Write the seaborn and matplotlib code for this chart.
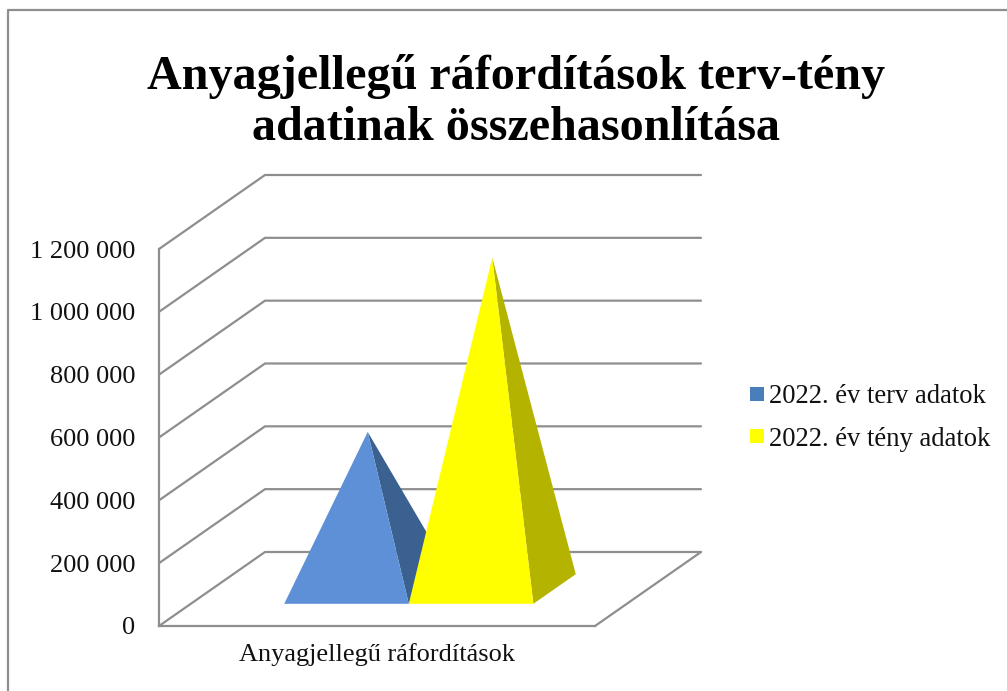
import numpy as np
import matplotlib
matplotlib.use('Agg')
import matplotlib.pyplot as plt
import seaborn as sns

from matplotlib.lines import Line2D
from matplotlib.patches import Patch

title = 'Anyagjellegű ráfordítások terv-tény\nadatinak összehasonlítása'
category = 'Anyagjellegű ráfordítások'
series = ['2022. év terv adatok', '2022. év tény adatok']
values = [500000, 1055000]
ticks = [0, 200000, 400000, 600000, 800000, 1000000, 1200000]

front_colors = ['#5E90D8', '#FFFF00']
side_colors = ['#3A618F', '#B3B300']
legend_colors = ['#4A7EBB', '#FFFF00']
grid_color = '#8E8E8E'

sns.set_theme(style='white')
plt.rcParams['font.family'] = ['Liberation Serif', 'DejaVu Serif']
plt.rcParams['text.color'] = '#111111'

fig = plt.figure(figsize=(10.07, 6.91), dpi=100)
ax = fig.add_axes([159 / 1007, 65 / 691, 436 / 1007, 377 / 691])
ax.set_xlim(-0.5, 0.5)
ax.set_ylim(0, 1200000)
ax.patch.set_alpha(0)

# oblique projection of the 3d box, depth 0 is front and depth 1 is the back wall
depth_x = 106 / 436
depth_y = 74 / 377 * 1200000


def project(x, y, depth):
    return x + depth * depth_x, y + depth * depth_y


# back wall and side wall lines
for tick in ticks:
    xs, ys = zip(project(-0.5, tick, 0), project(-0.5, tick, 1), project(0.5, tick, 1))
    sns.lineplot(x=list(xs), y=list(ys), sort=False, estimator=None, ax=ax,
        color=grid_color, linewidth=1.6, clip_on=False, zorder=1)

# floor edge on the right
xs, ys = zip(project(0.5, 0, 0), project(0.5, 0, 1))
sns.lineplot(x=list(xs), y=list(ys), sort=False, estimator=None, ax=ax,
    color=grid_color, linewidth=1.6, clip_on=False, zorder=1)

# pyramids, gap width 150% on the category and depth 0.4 in the middle of the floor
bar_width = 1 / (len(values) + 1.5)
start = -0.5 + 0.75 * bar_width
near, far = 0.3, 0.7
for i, value in enumerate(values):
    left = start + i * bar_width
    right = left + bar_width
    apex = project((left + right) / 2, value, (near + far) / 2)
    side = [project(right, 0, near), project(right, 0, far), apex]
    front = [project(left, 0, near), project(right, 0, near), apex]
    ax.fill(*zip(*side), color=side_colors[i], linewidth=0, clip_on=False, zorder=2 + i)
    ax.fill(*zip(*front), color=front_colors[i], linewidth=0, clip_on=False, zorder=2 + i)

ax.set_yticks(ticks)
ax.set_yticklabels([f'{t:,}'.replace(',', ' ') for t in ticks], fontsize=19)
ax.set_xticks([0])
ax.set_xticklabels([category], fontsize=19)
ax.tick_params(axis='y', length=0, pad=17)
ax.tick_params(axis='x', length=0, pad=12)
for label in ax.get_yticklabels() + ax.get_xticklabels():
    label.set_color('#111111')

sns.despine(ax=ax, top=True, right=True)
ax.spines['left'].set_color(grid_color)
ax.spines['bottom'].set_color(grid_color)
ax.spines['left'].set_linewidth(1.6)
ax.spines['bottom'].set_linewidth(1.6)

fig.text(516 / 1007, 1 - 102 / 691, title, ha='center', va='center', fontsize=34.7,
    fontweight='bold', color='black', linespacing=1.2)

handles = [Patch(facecolor=c, edgecolor='none', label=s) for c, s in zip(legend_colors, series)]
fig.legend(handles=handles, loc='center left', bbox_to_anchor=(742 / 1007, 1 - 418 / 691),
    frameon=False, fontsize=19.2, handlelength=0.525, handleheight=0.45, handletextpad=0.19,
    labelspacing=0.66, borderpad=0.3, borderaxespad=0)

# outer chart frame runs off the right and bottom of the picture
fig.add_artist(Line2D([8 / 1007, 8 / 1007, 1], [0, 1 - 10 / 691, 1 - 10 / 691],
    color='#8E8E8E', linewidth=1.6))

fig.savefig('out.png', dpi=100)
